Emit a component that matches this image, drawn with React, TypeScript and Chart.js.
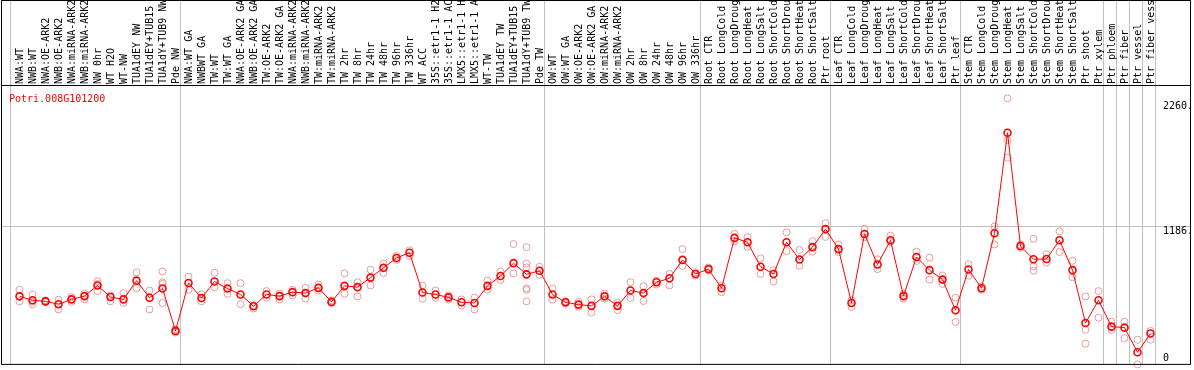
import { useEffect, useRef } from "react";
import { Chart, registerables } from "chart.js";

Chart.register(...registerables);

const geneId = "Potri.008G101200";

const categories = [
  "NWA:WT", "NWB:WT", "NWA:OE-ARK2", "NWB:OE-ARK2", "NWA:miRNA-ARK2", "NWB:miRNA-ARK2", "NW 0hr", "WT H2O", "WT-NW",
  "TUA1dEY NW", "TUA1dEY+TUB15 NW", "TUA1dY+TUB9 NW", "Pde NW",
  "NWA:WT GA", "NWBWT GA", "TW:WT", "TW:WT GA", "NWA:OE-ARK2 GA", "NWB:OE-ARK2 GA", "TW:OE-ARK2", "TW:OE-ARK2 GA",
  "NWA:miRNA-ARK2", "NWB:miRNA-ARK2", "TW:miRNA-ARK2", "TW:miRNA-ARK2", "TW 2hr", "TW 8hr", "TW 24hr", "TW 48hr",
  "TW 96hr", "TW 336hr", "WT ACC", "35S::etr1-1 H2O", "35S::etr1-1 ACC", "LMX5::etr1-1 H2O", "LMX5::etr1-1 ACC",
  "WT-TW", "TUA1dEY TW", "TUA1dEY+TUB15 TW", "TUA1dY+TUB9 TW", "Pde TW",
  "OW:WT", "OW:WT GA", "OW:OE-ARK2", "OW:OE-ARK2 GA", "OW:miRNA-ARK2", "OW:miRNA-ARK2", "OW 2hr", "OW 8hr",
  "OW 24hr", "OW 48hr", "OW 96hr", "OW 336hr",
  "Root CTR", "Root LongCold", "Root LongDrought", "Root LongHeat", "Root LongSalt", "Root ShortCold",
  "Root ShortDrought", "Root ShortHeat", "Root ShortSalt", "Ptr root",
  "Leaf CTR", "Leaf LongCold", "Leaf LongDrought", "Leaf LongHeat", "Leaf LongSalt", "Leaf ShortCold",
  "Leaf ShortDrought", "Leaf ShortHeat", "Leaf ShortSalt", "Ptr leaf",
  "Stem CTR", "Stem LongCold", "Stem LongDrought", "Stem LongHeat", "Stem LongSalt", "Stem ShortCold",
  "Stem ShortDrought", "Stem ShortHeat", "Stem ShortSalt",
  "Ptr shoot", "Ptr xylem", "Ptr phloem", "Ptr fiber", "Ptr vessel", "Ptr fiber vessel",
];

const meanValues = [
  585, 551, 542, 517, 559, 587, 678, 579, 559, 720, 573, 652, 288,
  700, 570, 712, 652, 601, 500, 601, 587, 621, 613, 658, 537, 675, 664, 746, 830, 915, 960,
  618, 601, 576, 534, 528, 675, 760, 870, 774, 805,
  601, 534, 514, 503, 585, 503, 635, 613, 706, 740, 898, 777,
  819, 655, 1087, 1050, 839, 777, 1050, 901, 1008, 1163,
  991, 528, 1121, 858, 1067, 587, 923, 810, 729, 466,
  816, 655, 1127, 1991, 1017, 904, 906, 1067, 810,
  356, 551, 325, 316, 104, 265,
];

const rep1 = [
  641, 599, 551, 556, 579, 607, 714, 542, 613, 791, 635, 799, 302,
  754, 601, 788, 698, 698, 480, 630, 607, 641, 658, 686, 551, 782, 706, 813, 867, 932, 980,
  678, 635, 593, 559, 573, 720, 799, 1034, 1008, 839,
  650, 542, 537, 559, 607, 528, 706, 672, 720, 777, 991, 791,
  833, 678, 1121, 1093, 912, 810, 1135, 983, 1059, 1214,
  1031, 551, 1166, 904, 1107, 607, 969, 918, 763, 573,
  861, 669, 1186, 2287, 1031, 1079, 946, 1144, 890,
  585, 630, 367, 367, 212, 288,
];

const rep2 = [
  542, 517, 537, 472, 537, 559, 630, 593, 528, 655, 472, 706, 274,
  641, 542, 664, 607, 517, 508, 573, 559, 593, 565, 635, 528, 607, 585, 678, 785, 898, 932,
  565, 573, 556, 505, 472, 641, 726, 782, 867, 771,
  556, 523, 494, 446, 565, 466, 570, 545, 686, 678, 847, 763,
  810, 621, 1059, 1011, 777, 712, 974, 847, 969, 1096,
  966, 494, 1093, 819, 1053, 565, 890, 729, 692, 364,
  763, 641, 1031, 1926, 1003, 842, 875, 966, 749,
  297, 401, 297, 226, 0, 212,
];

const rep3 = [
  null, 537, null, null, null, null, 692, null, null, null, null, 692, null,
  null, null, null, null, null, null, null, null, null, null, null, null, null, null, null, null, null, null,
  null, null, null, null, null, null, null, null, 833, null,
  null, null, null, null, null, null, null, null, null, null, null, null,
  null, null, null, null, null, null, null, null, null, null,
  null, null, null, null, null, null, null, null, null, null,
  null, null, null, 1776, null, 805, null, null, null,
  178, null, null, null, null, null,
];

const rep4 = [
  null, null, null, null, null, null, null, null, null, null, null, 528, null,
  null, null, null, null, null, null, null, null, null, null, null, null, null, null, null, null, null, null,
  null, null, null, null, null, null, null, null, 655, null,
  null, null, null, null, null, null, null, null, null, null, null, null,
  null, null, null, null, null, null, null, null, null, null,
  null, null, null, null, null, null, null, null, null, null,
  null, null, null, null, null, null, null, null, null,
  null, null, null, null, null, null,
];

const rep5 = categories.map((_, i) => (i === 39 ? 641 : null));
const rep6 = categories.map((_, i) => (i === 39 ? 542 : null));

// indices after which a grey separator line is drawn
const groupEnds = [12, 40, 52, 62, 72, 83, 84, 85, 86, 87];
const yTickValues = [2260, 1186, 0];
const yTickLabels = ["2260.", "1186.", "0"];
const yGridValues = [1186];

const FONT = "10px 'DejaVu Sans Mono', monospace";

const decorPlugin = {
  id: "decor",
  beforeDatasetsDraw(chart: any) {
    const { ctx, scales, chartArea } = chart;
    const x = scales.x;
    const y = scales.y;
    const W = chart.width;
    ctx.save();
    ctx.strokeStyle = "#c0c0c0";
    ctx.lineWidth = 1;
    ctx.beginPath();
    const vx: number[] = [x.getPixelForValue(0) - 9];
    groupEnds.forEach((i) => vx.push(x.getPixelForValue(i) + 5));
    vx.forEach((px) => {
      const c = Math.floor(px) + 0.5;
      ctx.moveTo(c, 0);
      ctx.lineTo(c, chartArea.bottom);
    });
    yGridValues.forEach((v) => {
      const r = Math.floor(y.getPixelForValue(v)) + 0.5;
      ctx.moveTo(1, r);
      ctx.lineTo(W - 4, r);
    });
    ctx.stroke();
    ctx.restore();
  },
  afterDraw(chart: any) {
    const { ctx, scales, chartArea } = chart;
    const x = scales.x;
    const y = scales.y;
    const W = chart.width;
    const frameRight = W - 3.5;
    ctx.save();
    // frame
    ctx.strokeStyle = "#000000";
    ctx.lineWidth = 1;
    ctx.beginPath();
    ctx.moveTo(1.5, 0);
    ctx.lineTo(1.5, chartArea.bottom);
    ctx.moveTo(frameRight, 0);
    ctx.lineTo(frameRight, chartArea.bottom);
    ctx.moveTo(1, 0.5);
    ctx.lineTo(frameRight, 0.5);
    ctx.moveTo(1, chartArea.top);
    ctx.lineTo(frameRight, chartArea.top);
    ctx.moveTo(1, chartArea.bottom);
    ctx.lineTo(frameRight, chartArea.bottom);
    ctx.stroke();

    ctx.font = FONT;
    // category labels (rotated)
    ctx.fillStyle = "#000000";
    ctx.textAlign = "left";
    ctx.textBaseline = "alphabetic";
    categories.forEach((lab, i) => {
      const px = x.getPixelForValue(i);
      ctx.save();
      ctx.translate(px + 3.5, chartArea.top - 1.5);
      ctx.rotate(-Math.PI / 2);
      ctx.fillText(lab, 0, 0);
      ctx.restore();
    });

    // gene id
    ctx.fillStyle = "#ff0000";
    ctx.fillText(geneId, 9, chartArea.top + 16);

    // y labels
    ctx.beginPath();
    ctx.rect(0, 0, frameRight - 0.5, chart.height);
    ctx.clip();
    ctx.fillStyle = "#000000";
    yTickValues.forEach((v, k) => {
      const py = y.getPixelForValue(v);
      const base = v === 0 ? py - 3.5 : py + 8;
      ctx.fillText(yTickLabels[k], chartArea.right + 6, Math.round(base));
    });
    ctx.restore();
  },
};

export default function App() {
  const ref = useRef<HTMLCanvasElement>(null);
  useEffect(() => {
    document.body.style.margin = "0";
    const canvas = ref.current;
    if (!canvas) return;
    const repStyle = {
      type: "line" as const,
      showLine: false,
      pointRadius: 3.5,
      pointBorderWidth: 1,
      pointBorderColor: "#e89a9a",
      pointBackgroundColor: "rgba(0,0,0,0)",
      borderColor: "#e89a9a",
      clip: false as const,
    };
    const chart = new Chart(canvas, {
      type: "line",
      data: {
        labels: categories,
        datasets: [
          {
            data: meanValues,
            borderColor: "#ff0000",
            borderWidth: 1,
            tension: 0,
            pointRadius: 3.5,
            pointBorderWidth: 1.6,
            pointBorderColor: "#ff0000",
            pointBackgroundColor: "rgba(0,0,0,0)",
            clip: false,
          },
          { ...repStyle, data: rep1 },
          { ...repStyle, data: rep2 },
          { ...repStyle, data: rep3 },
          { ...repStyle, data: rep4 },
          { ...repStyle, data: rep5 },
          { ...repStyle, data: rep6 },
        ] as any,
      },
      options: {
        animation: false,
        responsive: false,
        devicePixelRatio: 1,
        layout: { padding: { left: 13, right: 37, top: 85.5, bottom: 1.5 } },
        plugins: { legend: { display: false }, tooltip: { enabled: false }, title: { display: false } },
        scales: {
          x: { type: "category", offset: true, display: false, grid: { display: false } },
          y: { type: "linear", min: 0, max: 2397, display: false, grid: { display: false } },
        },
        events: [],
      },
      plugins: [decorPlugin],
    });
    return () => chart.destroy();
  }, []);
  return (
    <div style={{ position: "fixed", left: 0, top: 0, width: 1194, height: 370, background: "#ffffff" }}>
      <canvas ref={ref} width={1194} height={370} style={{ display: "block", width: 1194, height: 370 }} />
    </div>
  );
}
